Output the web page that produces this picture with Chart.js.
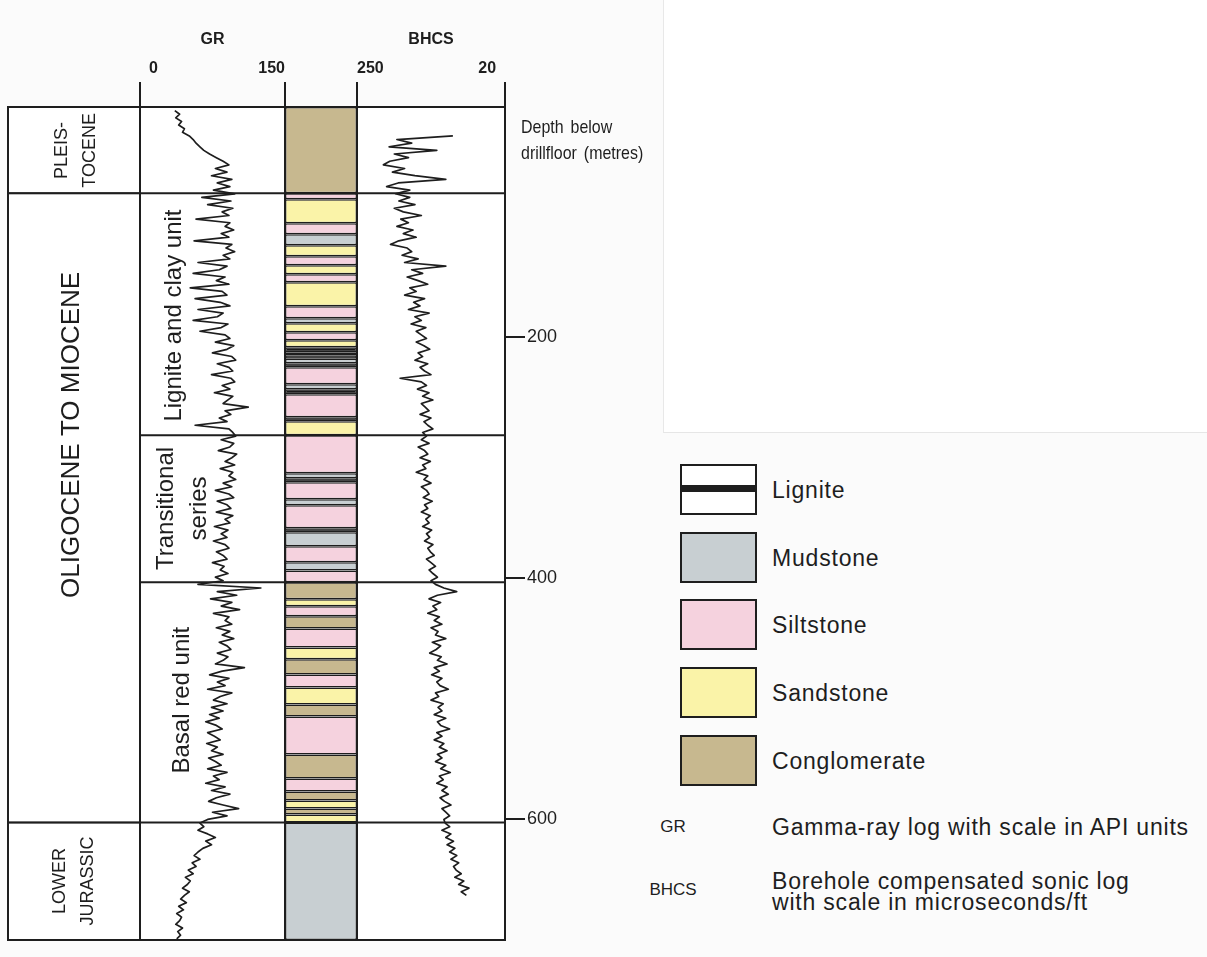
<!DOCTYPE html>
<html><head><meta charset="utf-8">
<script src="https://cdn.jsdelivr.net/npm/chart.js@4.4.1/dist/chart.umd.min.js"></script>
<style>
html,body{margin:0;padding:0;}
body{width:1207px;height:957px;background:#fbfbfb;position:relative;overflow:hidden;font-family:"Liberation Sans",Arial,sans-serif;color:#1e1e1e;}
#panel{position:absolute;left:663px;top:0;width:544px;height:432px;background:#fff;border-left:1px solid #e8e8e8;border-bottom:1px solid #e6e6e6;}
#wrap{position:absolute;left:0;top:0;width:620px;height:957px;}
.cond{transform:scaleX(0.84);transform-origin:0 0;}
.depth{position:absolute;left:521px;top:114px;font-size:19px;line-height:26px;word-spacing:3px;white-space:nowrap;}
.sw{position:absolute;left:680px;width:73px;height:47px;border:2.5px solid #1e1e1e;}
.band{position:absolute;left:0;right:0;top:19px;height:7px;background:#1e1e1e;}
.lab{position:absolute;left:772px;font-size:23px;letter-spacing:0.8px;line-height:26px;white-space:nowrap;}
.abbr{position:absolute;left:633px;width:80px;text-align:center;font-size:17px;line-height:22px;}
</style>
</head>
<body>
<div id="panel"></div>
<div id="wrap"><canvas id="c" width="620" height="957"></canvas></div>
<div class="depth cond">Depth below<br>drillfloor (metres)</div>

<div class="sw" style="top:464px;background:#fff;"><div class="band"></div></div>
<div class="lab" style="top:477px;">Lignite</div>
<div class="sw" style="top:532px;background:#c8cfd2;"></div>
<div class="lab" style="top:545px;">Mudstone</div>
<div class="sw" style="top:599px;background:#f5d2de;"></div>
<div class="lab" style="top:612px;">Siltstone</div>
<div class="sw" style="top:667px;background:#faf3a8;"></div>
<div class="lab" style="top:680px;">Sandstone</div>
<div class="sw" style="top:735px;background:#c7b88f;"></div>
<div class="lab" style="top:748px;">Conglomerate</div>

<div class="abbr" style="top:816px;">GR</div>
<div class="lab" style="top:814px;">Gamma-ray log with scale in API units</div>
<div class="abbr" style="top:879px;">BHCS</div>
<div class="lab" style="top:871px;line-height:21px;">Borehole compensated sonic log<br>with scale in microseconds/ft</div>

<script>
// ---------- data ----------
const GR_TICKS = [0, 150];
const BHCS_TICKS = [20, 250];
const DEPTH_TICKS = [200, 400, 600];
const DEPTH_RANGE = [9, 700];

const STRAT_NAMES = [['PLEIS-', 'TOCENE'], ['OLIGOCENE TO MIOCENE'], ['LOWER', 'JURASSIC']];
const STRAT_TOP = [9, 80.5, 602.5];
const STRAT_BASE = [80.5, 602.5, 700];

const UNIT_NAMES = [['Lignite and clay unit'], ['Transitional', 'series'], ['Basal red unit']];
const UNIT_TOP = [80.5, 281.3, 403.3];
const UNIT_BASE = [281.3, 403.3, 602.5];

const LITH_TYPE = ['Conglomerate','Siltstone','Sandstone','Siltstone','Mudstone','Sandstone','Siltstone','Sandstone','Siltstone','Sandstone',
  'Siltstone','Mudstone','Sandstone','Siltstone','Sandstone','Lignite','Mudstone','Lignite','Mudstone','Lignite',
  'Siltstone','Mudstone','Lignite','Siltstone','Lignite','Sandstone','Siltstone','Mudstone','Lignite','Siltstone',
  'Mudstone','Siltstone','Lignite','Mudstone','Siltstone','Mudstone','Siltstone','Conglomerate','Sandstone','Siltstone',
  'Conglomerate','Siltstone','Sandstone','Conglomerate','Siltstone','Sandstone','Conglomerate','Siltstone','Conglomerate','Siltstone',
  'Conglomerate','Sandstone','Conglomerate','Sandstone','Mudstone'];
const LITH_TOP = [9,80.5,85.5,105.4,114.5,123.7,132.8,140.2,147.7,154.4,
  174.3,184.2,188.4,195.9,202.5,208.3,212.4,214.9,217.8,221.6,
  224.9,239.0,243.2,247.3,266.4,269.7,281.3,312.9,317.0,320.3,
  334.4,339.4,358.5,361.8,373.4,386.7,393.4,403.3,417.4,423.2,
  431.5,441.5,457.3,467.2,479.7,490.5,504.6,514.5,546.1,566.0,
  576.8,584.2,590.9,595.9,602.5];
const LITH_BASE = [80.5,85.5,105.4,114.5,123.7,132.8,140.2,147.7,154.4,174.3,
  184.2,188.4,195.9,202.5,208.3,212.4,214.9,217.8,221.6,224.9,
  239.0,243.2,247.3,266.4,269.7,281.3,312.9,317.0,320.3,334.4,
  339.4,358.5,361.8,373.4,386.7,393.4,403.3,417.4,423.2,431.5,
  441.5,457.3,467.2,479.7,490.5,504.6,514.5,546.1,566.0,576.8,
  584.2,590.9,595.9,602.5,700];

const GR_DEPTH = [12,15,18,21,24,27,30,33,36,39,42,45,48,51,54,57,60,63,66,69,72,75,78,81,84,87,90,93,96,99,
  102,105,108,111,114,117,120,123,126,129,132,135,138,141,144,147,150,153,156,159,162,165,168,171,174,177,180,183,186,189,
  192,195,198,201,204,207,210,213,216,219,222,225,228,231,234,237,240,243,246,249,252,255,258,261,264,267,270,273,276,279,
  282,285,288,291,294,297,300,303,306,309,312,315,318,321,324,327,330,333,336,339,342,345,348,351,354,357,360,363,366,369,
  372,375,378,381,384,387,390,393,396,399,402,405,408,411,414,417,420,423,426,429,432,435,438,441,444,447,450,453,456,459,
  462,465,468,471,474,477,480,483,486,489,492,495,498,501,504,507,510,513,516,519,522,525,528,531,534,537,540,543,546,549,
  552,555,558,561,564,567,570,573,576,579,582,585,588,591,594,597,600,603,606,609,612,615,618,621,624,627,630,633,636,639,
  642,645,648,651,654,657,660,663,666,669,672,675,678,681,684,687,690,693,696,699];
const GR_API = [36,41,37,43,40,46,44,51,55,58,62,66,72,79,86,92,78,90,74,95,80,93,76,98,64,94,70,96,85,92,
  58,93,88,97,84,92,56,95,89,98,86,93,60,90,82,55,88,79,92,52,85,90,57,83,93,60,86,80,55,91,
  84,62,88,93,78,97,90,75,95,99,80,92,96,74,94,98,85,93,77,96,91,86,112,88,94,82,90,57,92,96,
  99,84,97,93,81,100,95,88,98,83,96,92,99,86,95,78,92,97,80,90,94,79,96,88,93,77,91,84,90,76,
  88,92,79,86,90,75,87,83,91,78,86,60,125,80,100,73,95,84,103,76,92,88,95,79,93,85,97,82,90,94,
  80,91,86,78,108,85,72,92,80,88,70,95,83,76,90,74,86,72,82,68,79,85,70,77,83,69,80,74,86,71,
  78,84,70,90,76,82,68,88,74,93,79,71,86,102,75,90,70,62,66,60,70,78,68,74,65,60,56,62,54,58,
  50,55,47,52,49,44,51,46,42,48,40,45,38,43,41,37,44,39,42,38];

const BHCS_DEPTH = [33,36,39,42,45,48,51,54,57,60,63,66,69,72,75,78,81,84,87,90,93,96,99,102,105,108,111,114,117,120,
  123,126,129,132,135,138,141,144,147,150,153,156,159,162,165,168,171,174,177,180,183,186,189,192,195,198,201,204,207,210,
  213,216,219,222,225,228,231,234,237,240,243,246,249,252,255,258,261,264,267,270,273,276,279,282,285,288,291,294,297,300,
  303,306,309,312,315,318,321,324,327,330,333,336,339,342,345,348,351,354,357,360,363,366,369,372,375,378,381,384,387,390,
  393,396,399,402,405,408,411,414,417,420,423,426,429,432,435,438,441,444,447,450,453,456,459,462,465,468,471,474,477,480,
  483,486,489,492,495,498,501,504,507,510,513,516,519,522,525,528,531,534,537,540,543,546,549,552,555,558,561,564,567,570,
  573,576,579,582,585,588,591,594,597,600,603,606,609,612,615,618,621,624,627,630,633,636,639,642,645,648,651,654,657,660,
  663];
const BHCS_DT = [101,188,165,200,126,192,170,199,209,176,195,160,112,186,204,168,190,168,185,160,192,178,150,182,170,188,163,178,158,185,
  198,172,165,180,155,176,112,165,148,172,155,140,168,158,176,145,162,152,170,138,160,150,166,143,158,150,142,158,146,137,
  155,148,160,140,152,145,135,183,150,142,156,138,148,132,150,144,138,152,135,146,140,132,148,142,150,138,155,145,140,152,
  136,148,143,158,140,146,135,150,142,138,147,133,145,140,150,136,143,138,148,134,142,137,145,132,140,136,130,142,135,128,
  138,132,125,135,128,115,95,125,138,120,132,126,140,122,130,118,135,124,128,112,133,120,127,137,119,125,110,130,122,134,
  118,126,121,108,128,123,135,116,124,118,130,112,125,120,106,126,118,130,115,122,110,125,118,128,112,120,105,122,116,126,
  110,118,108,121,114,104,118,112,106,115,113,106,118,104,112,100,110,98,106,95,104,92,100,96,88,98,84,92,76,88,
  80];

// ---------- styles ----------
const INK = '#1e1e1e';
const LITH_COLOR = {Conglomerate:'#c7b88f', Sandstone:'#faf3a8', Siltstone:'#f5d2de', Mudstone:'#c8cfd2', Lignite:'#1a1a1a'};
const SANS = '"Liberation Sans", Arial, sans-serif';
const FIG_SP = '\u2007';
const TOP_AXIS_H = 82;
const STRAT_LABEL_AT = [45, 281, 651];
const STRAT_LABEL_DX = [2, -2, 0];
const UNIT_LABEL_AT = [182, 342, 501];
const UNIT_LABEL_DX = [34, 43, 42];

const fixH = s => { s.height = TOP_AXIS_H; };
const topGrid = {drawOnChartArea:false, drawTicks:true, tickLength:25, color:INK, lineWidth:2, offset:false};
const topBorder = {display:true, color:INK, width:2};
const tickFont = {family:SANS, size:16, weight:'bold'};
const titleFont = {family:SANS, size:16, weight:'bold'};

function drawRotated(ctx, lines, cx, cy, font, spacing) {
  ctx.save();
  ctx.translate(cx, cy);
  ctx.rotate(-Math.PI / 2);
  ctx.font = font;
  ctx.textAlign = 'center';
  ctx.textBaseline = 'middle';
  ctx.fillStyle = INK;
  const n = lines.length;
  lines.forEach((t, i) => ctx.fillText(t, 0, (i - (n - 1) / 2) * spacing));
  ctx.restore();
}

const framePlugin = {
  id: 'frame',
  beforeDraw(chart) {
    const {ctx, chartArea: a} = chart;
    ctx.save();
    ctx.fillStyle = '#ffffff';
    ctx.fillRect(a.left, a.top, a.right - a.left, a.bottom - a.top);
    ctx.restore();
  },
  afterDatasetsDraw(chart) {
    const {ctx, chartArea: a, scales} = chart;
    const y = scales.y, gr = scales.xGR, li = scales.xLith, st = scales.xStrat;
    ctx.save();
    ctx.strokeStyle = INK;
    ctx.lineWidth = 2;
    ctx.beginPath();
    ctx.rect(a.left, a.top, a.right - a.left, a.bottom - a.top);
    [st.right, li.left, li.right].forEach(x => { ctx.moveTo(x, a.top); ctx.lineTo(x, a.bottom); });
    STRAT_BASE.forEach(d => { const p = y.getPixelForValue(d); ctx.moveTo(a.left, p); ctx.lineTo(a.right, p); });
    UNIT_BASE.forEach(d => { const p = y.getPixelForValue(d); ctx.moveTo(gr.left, p); ctx.lineTo(a.right, p); });
    ctx.stroke();
    const scx = (st.left + st.right) / 2;
    STRAT_NAMES.forEach((lines, i) => {
      const big = lines.length === 1;
      drawRotated(ctx, lines, scx + STRAT_LABEL_DX[i], y.getPixelForValue(STRAT_LABEL_AT[i]),
        (big ? 26 : 18) + 'px ' + SANS, 28);
    });
    UNIT_NAMES.forEach((lines, i) => {
      drawRotated(ctx, lines, gr.left + UNIT_LABEL_DX[i], y.getPixelForValue(UNIT_LABEL_AT[i]), '24px ' + SANS, 33);
    });
    ctx.restore();
  }
};

const lithData = LITH_TYPE.map((t, i) => ({x:'L', y:[LITH_TOP[i], LITH_BASE[i]]}));
const stratData = STRAT_TOP.map((t, i) => ({x:'S', y:[STRAT_TOP[i], STRAT_BASE[i]]}));

new Chart(document.getElementById('c'), {
  type: 'bar',
  data: {
    datasets: [
      {type:'bar', label:'Stratigraphy', data:stratData, xAxisID:'xStrat', yAxisID:'y',
        backgroundColor:'#ffffff', borderColor:INK, borderWidth:1, borderSkipped:false,
        barPercentage:1, categoryPercentage:1, inflateAmount:0, grouped:false},
      {type:'bar', label:'Lithology', data:lithData, xAxisID:'xLith', yAxisID:'y',
        backgroundColor: LITH_TYPE.map(t => LITH_COLOR[t]), borderColor:INK, borderWidth:1.5, borderSkipped:false,
        barPercentage:1, categoryPercentage:1, inflateAmount:0, grouped:false},
      {type:'line', label:'GR', data:GR_DEPTH.map((d, i) => ({x:GR_API[i], y:d})), xAxisID:'xGR', yAxisID:'y',
        borderColor:INK, borderWidth:1.7, pointRadius:0, tension:0, fill:false, borderJoinStyle:'round'},
      {type:'line', label:'BHCS', data:BHCS_DEPTH.map((d, i) => ({x:BHCS_DT[i], y:d})), xAxisID:'xBHCS', yAxisID:'y',
        borderColor:INK, borderWidth:1.7, pointRadius:0, tension:0, fill:false, borderJoinStyle:'round'}
    ]
  },
  options: {
    responsive:false, devicePixelRatio:1, animation:false, events:[],
    layout:{padding:{left:8, top:25, right:55, bottom:17}},
    plugins:{legend:{display:false}, tooltip:{enabled:false}, title:{display:false}},
    scales: {
      xStrat: {type:'category', labels:['S'], position:'top', stack:'tracks', stackWeight:132, weight:4,
        grid:{display:false}, ticks:{display:false}, border:topBorder, afterFit:fixH},
      xGR: {type:'linear', position:'top', stack:'tracks', stackWeight:145, weight:3, min:0, max:150, offset:false,
        afterBuildTicks: s => { s.ticks = GR_TICKS.map(v => ({value:v})); },
        grid:topGrid, border:topBorder,
        ticks:{font:tickFont, color:INK, align:'inner', padding:4, maxRotation:0, autoSkip:false,
          callback: v => v === GR_TICKS[0] ? FIG_SP + v : String(v)},
        title:{display:true, text:'GR', font:titleFont, color:INK, padding:{top:5, bottom:0}},
        afterFit:fixH},
      xLith: {type:'category', labels:['L'], position:'top', stack:'tracks', stackWeight:72, weight:2,
        grid:{display:false}, ticks:{display:false}, border:topBorder, afterFit:fixH},
      xBHCS: {type:'linear', position:'top', stack:'tracks', stackWeight:148, weight:1, min:20, max:250, reverse:true, offset:false,
        afterBuildTicks: s => { s.ticks = BHCS_TICKS.map(v => ({value:v})); },
        grid:topGrid, border:topBorder,
        ticks:{font:tickFont, color:INK, align:'inner', padding:4, maxRotation:0, autoSkip:false,
          callback: v => v === BHCS_TICKS[0] ? v + FIG_SP : String(v)},
        title:{display:true, text:'BHCS', font:titleFont, color:INK, padding:{top:5, bottom:0}},
        afterFit:fixH},
      y: {type:'linear', position:'right', reverse:true, min:DEPTH_RANGE[0], max:DEPTH_RANGE[1], beginAtZero:false,
        afterBuildTicks: s => { s.ticks = DEPTH_TICKS.map(v => ({value:v})); },
        grid:{drawOnChartArea:false, drawTicks:true, tickLength:20, color:INK, lineWidth:2},
        border:{display:true, color:INK, width:2},
        ticks:{font:{family:SANS, size:18}, color:INK, padding:2},
        afterFit: s => { s.width = 60; }}
    }
  },
  plugins:[framePlugin]
});
</script>
</body></html>
